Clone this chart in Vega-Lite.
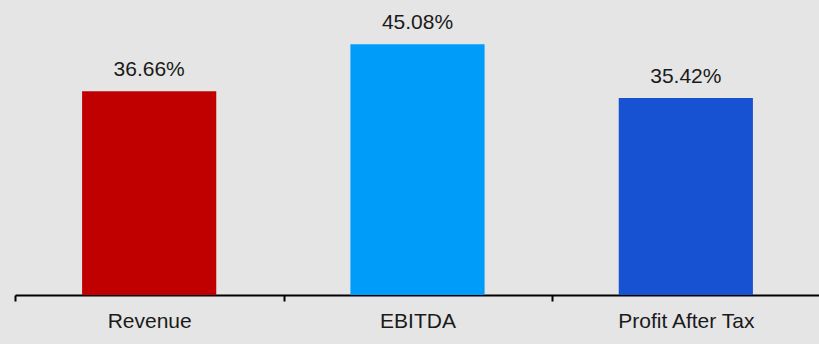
{
  "$schema": "https://vega.github.io/schema/vega-lite/v6.json",
  "autosize": {"type": "none"},
  "padding": {"left": 15, "top": 17, "right": 0, "bottom": 49},
  "width": 805,
  "height": 278,
  "background": "#e5e5e5",
  "config": {
    "view": {"stroke": null},
    "font": "Liberation Sans"
  },
  "data": {
    "values": [
      {"metric": "Revenue", "value": 36.66, "label": "36.66%"},
      {"metric": "EBITDA", "value": 45.08, "label": "45.08%"},
      {"metric": "Profit After Tax", "value": 35.42, "label": "35.42%"}
    ]
  },
  "encoding": {
    "x": {
      "field": "metric",
      "type": "nominal",
      "sort": null,
      "scale": {"paddingInner": 0.5, "paddingOuter": 0.25},
      "axis": {
        "title": null,
        "labelAngle": 0,
        "labelFontSize": 21,
        "labelColor": "#1a1a1a",
        "labelBaseline": "alphabetic",
        "labelPadding": 26,
        "tickSize": 6,
        "tickWidth": 2,
        "tickColor": "#000000",
        "tickOffset": -134,
        "labelOffset": 134,
        "domainColor": "#000000",
        "domainWidth": 2,
        "grid": false
      }
    },
    "y": {
      "field": "value",
      "type": "quantitative",
      "scale": {"domain": [0, 50], "nice": false},
      "axis": null
    }
  },
  "layer": [
    {
      "mark": {"type": "bar"},
      "encoding": {
        "color": {
          "field": "metric",
          "type": "nominal",
          "scale": {
            "domain": ["Revenue", "EBITDA", "Profit After Tax"],
            "range": ["#c00000", "#009cfa", "#1652d2"]
          },
          "legend": null
        }
      }
    },
    {
      "mark": {"type": "text", "baseline": "alphabetic", "align": "center", "dy": -15, "fontSize": 21, "color": "#1a1a1a"},
      "encoding": {"text": {"field": "label"}}
    }
  ]
}
